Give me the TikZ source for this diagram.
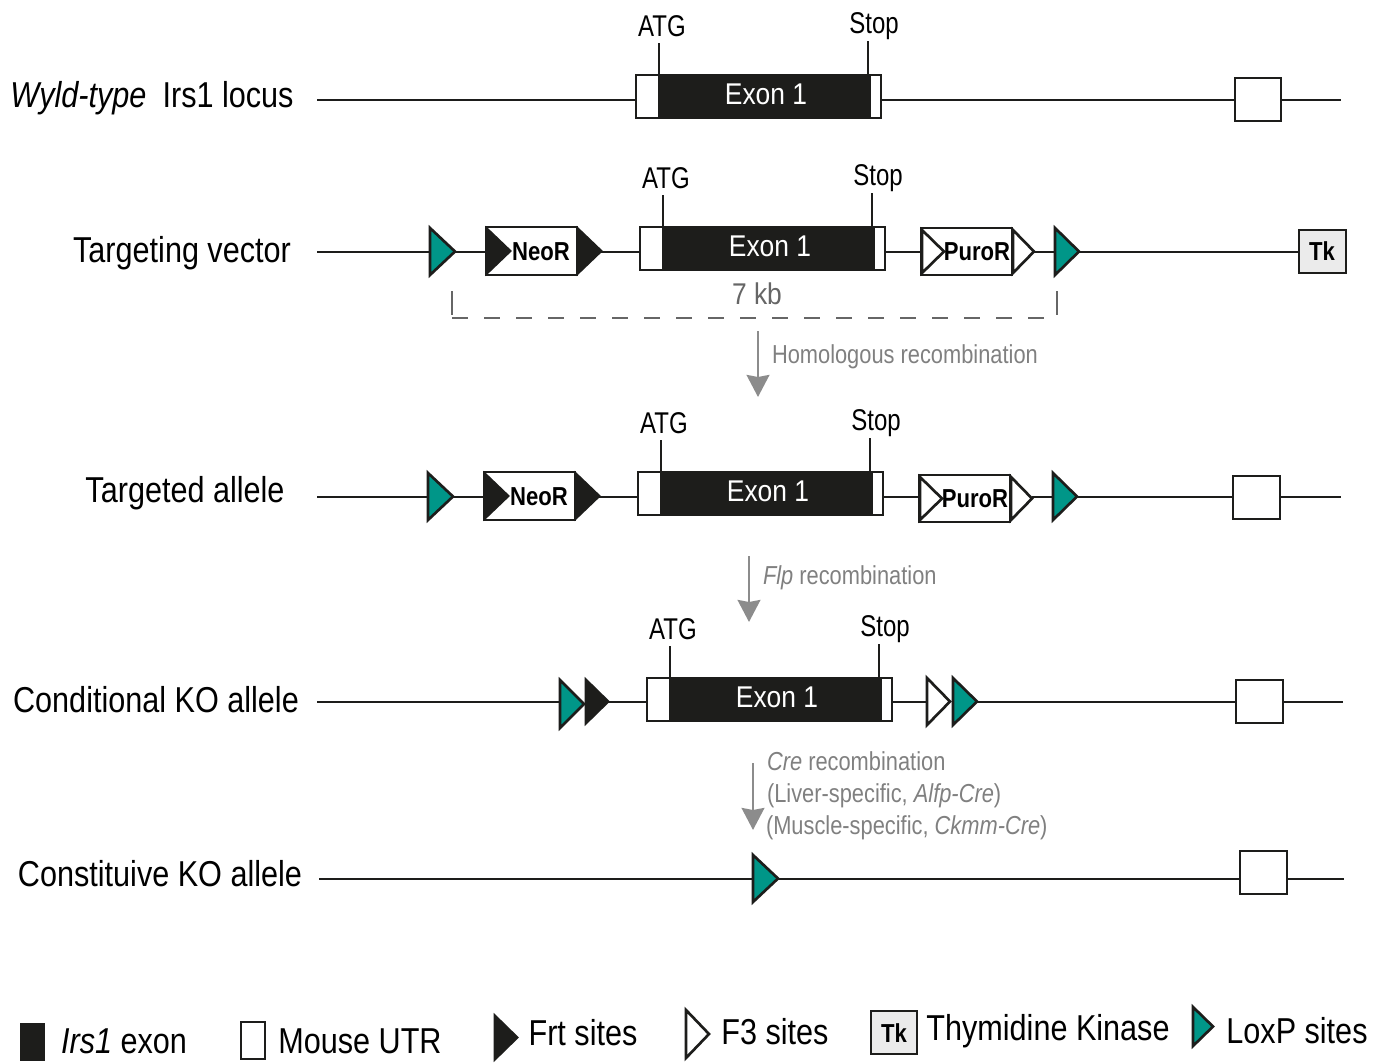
\documentclass[tikz,border=0pt]{standalone}
\usepackage{fontspec}
\setmainfont[FakeStretch=0.8]{Liberation Sans}
\newfontfamily\fontlab[FakeStretch=0.85]{Liberation Sans}
\newfontfamily\fontnote[FakeStretch=0.84]{Liberation Sans}
\newfontfamily\fontexon[FakeStretch=0.88]{Liberation Sans}
\newfontfamily\fonttag[FakeStretch=0.85]{Liberation Sans}
\usetikzlibrary{shapes.geometric,arrows.meta,calc}
\definecolor{ink}{HTML}{1D1D1B}
\definecolor{teal1}{HTML}{009688}
\definecolor{grayt}{HTML}{808080}
\definecolor{grayk}{HTML}{666666}
\definecolor{grayar}{HTML}{8C8C8C}
\definecolor{tkfill}{HTML}{EBEBEB}
\tikzset{
  x=0.75pt,y=-0.75pt,
  ln/.style={draw=ink,line width=2pt},
  shp/.style={draw=ink,line width=2pt,inner sep=0pt,outer sep=0pt},
  white box/.style={shp,fill=white},
  black box/.style={shp,fill=ink,draw=none},
  tk box/.style={shp,fill=tkfill},
  tri/.style={shp,isosceles triangle,isosceles triangle stretches=true,shape border rotate=0,anchor=lower side,miter limit=20},
  teal tri/.style={tri,fill=teal1},
  black tri/.style={tri,fill=ink},
  white tri/.style={tri,fill=white},
  lab/.style={anchor=base,inner sep=0pt,outer sep=0pt,text=black,font=\fontlab\fontsize{27pt}{30pt}\selectfont},
  ann/.style={anchor=base,inner sep=0pt,outer sep=0pt,text=black,font=\fontsize{22.5pt}{26pt}\selectfont},
  exon text/.style={anchor=base,inner sep=0pt,outer sep=0pt,text=white,font=\fontexon\fontsize{22.5pt}{26pt}\selectfont},
  tag/.style={anchor=base,inner sep=0pt,outer sep=0pt,text=black,font=\fonttag\fontsize{19.5pt}{24pt}\selectfont\bfseries},
  note/.style={anchor=base west,inner sep=0pt,outer sep=0pt,text=grayt,font=\fontnote\fontsize{19.5pt}{24pt}\selectfont},
  flow/.style={draw=grayar,line width=2.2pt,-{Stealth[length=16.5pt,width=17pt,inset=1.5pt,fill=grayar]}},
  brk/.style={draw=grayk,line width=1.9pt},
}
% name, x1, x2, y1, y2, style
\newcommand{\bx}[6]{\node[#6,rectangle,anchor=north west,minimum width={(#3-#2)*0.75pt},minimum height={(#5-#4)*0.75pt}] (#1) at (#2,#4) {};}
% name, x left, x right, y top, y bottom, style: outer extents, stroke taken off
\newcommand{\trg}[6]{\node[#6,minimum height={(#3-#2-2)*0.75pt},minimum width={(#5-#4-4)*0.75pt}] (#1) at ({#2+1},{(#4+#5)/2}) {};}
% connector along a row: from node anchor to node anchor at the row's level
\newcommand{\cn}[3]{\draw[ln] (#1 |- #3) -- (#3 -| #2);}
% exon group shifted from the first row
\newcommand{\exongroup}[3]{%
\begin{scope}[shift={(#1,#2)},name prefix=#3-]
  \bx{utrl}{636}{659}{75}{118}{white box}
  \bx{utrr}{870}{881}{75}{118}{white box}
  \bx{exon}{659}{870}{74}{119}{black box}
  \node[exon text] (exlab) at (766,104) {Exon 1};
  \node[ann] (atg) at (662,36) {ATG};
  \node[ann] (stop) at (874,33) {Stop};
  \coordinate (atgtop) at (659,43);
  \coordinate (stoptop) at (868,41);
  \draw[ln] (exon.north west) -- (atgtop);
  \draw[ln] (exon.north west -| stoptop) -- (stoptop);
\end{scope}}
% selection cassettes
\newcommand{\neo}[3]{%
\begin{scope}[shift={(#1,#2)},name prefix=#3-]
  \bx{neobox}{486}{577}{227}{275}{white box}
  \trg{neoin}{486}{511}{227}{275}{black tri}
  \trg{neotri}{577}{602}{227}{275}{black tri}
  \node[tag] (neolab) at (541,260) {NeoR};
\end{scope}}
\newcommand{\puro}[3]{%
\begin{scope}[shift={(#1,#2)},name prefix=#3-]
  \bx{purobox}{921}{1012}{228}{275}{white box}
  \trg{puroin}{921}{945}{228}{275}{white tri}
  \trg{purotri}{1012}{1035}{228}{275}{white tri}
  \node[tag] (purolab) at (977,260) {PuroR};
\end{scope}}
\begin{document}
\begin{tikzpicture}
\useasboundingbox (0,0) rectangle (1379,1064);
% row levels and free ends
\coordinate (r1) at (317,100);
\coordinate (e1) at (1341,100);
\coordinate (r2) at (317,252);
\coordinate (r3) at (317,497);
\coordinate (e3) at (1341,497);
\coordinate (r4) at (317,702);
\coordinate (e4) at (1343,702);
\coordinate (r5) at (319,879);
\coordinate (e5) at (1344,879);

% row labels
\node[lab] (l1) at (152,107) {\textit{Wyld-type}\hspace{0.45em}Irs1 locus};
\node[lab] (l2) at (182,262) {Targeting vector};
\node[lab] (l3) at (185,502) {Targeted allele};
\node[lab] (l4) at (156,712) {Conditional KO allele};
\node[lab] (l5) at (160,886) {Constituive KO allele};

% row 1
\exongroup{0}{0}{a}
\bx{a-box}{1235}{1281}{78}{121}{white box}
\draw[ln] (r1) -- (r1 -| a-utrl.west);
\cn{a-utrr.east}{a-box.west}{r1}
\draw[ln] (a-box.east |- r1) -- (e1);

% row 2
\exongroup{4}{152}{b}
\trg{b-t1}{429}{456}{226}{277}{teal tri}
\neo{0}{0}{b}
\puro{0}{0}{b}
\trg{b-t2}{1054}{1080}{226}{277}{teal tri}
\bx{b-tk}{1299}{1346}{230}{273}{tk box}
\node[tag] (b-tklab) at (1322,260) {Tk};
\draw[ln] (r2) -- (r2 -| b-t1.lower side);
\cn{b-t1.apex}{b-neobox.west}{r2}
\cn{b-neotri.apex}{b-utrl.west}{r2}
\cn{b-utrr.east}{b-purobox.west}{r2}
\cn{b-purotri.apex}{b-t2.lower side}{r2}
\cn{b-t2.apex}{b-tk.west}{r2}

% 7 kb bracket
\node[anchor=base,inner sep=0pt,text=grayk,font=\fontexon\fontsize{22.5pt}{26pt}\selectfont] (kb) at (757,304) {7 kb};
\coordinate (bl) at (452,318);
\coordinate (br) at (1057,318);
\coordinate (blt) at (452,291);
\coordinate (brt) at (1057,291);
\draw[brk] (blt) -- ($(bl)+(0,-3)$);
\draw[brk] (brt) -- ($(br)+(0,-3)$);
\draw[brk,dash pattern=on 12pt off 12pt] (bl) -- (br);

% arrow 1
\coordinate (f1a) at (758,331);
\coordinate (f1b) at (758,397);
\draw[flow] (f1a) -- (f1b);
\node[note] (n1) at (772,363) {Homologous recombination};

% row 3
\exongroup{2}{397}{c}
\trg{c-t1}{427}{454}{471}{522}{teal tri}
\neo{-2}{245}{c}
\puro{-2}{247}{c}
\trg{c-t2}{1052}{1078}{471}{522}{teal tri}
\bx{c-box}{1233}{1280}{476}{519}{white box}
\draw[ln] (r3) -- (r3 -| c-t1.lower side);
\cn{c-t1.apex}{c-neobox.west}{r3}
\cn{c-neotri.apex}{c-utrl.west}{r3}
\cn{c-utrr.east}{c-purobox.west}{r3}
\cn{c-purotri.apex}{c-t2.lower side}{r3}
\cn{c-t2.apex}{c-box.west}{r3}
\draw[ln] (c-box.east |- r3) -- (e3);

% arrow 2
\coordinate (f2a) at (749,556);
\coordinate (f2b) at (749,622);
\draw[flow] (f2a) -- (f2b);
\node[note] (n2) at (763,584) {\textit{Flp} recombination};

% row 4
\exongroup{11}{603}{d}
\trg{d-t1}{559}{585}{678}{730}{teal tri}
\trg{d-t2}{585}{609}{678}{725}{black tri}
\trg{d-t3}{926}{951}{676}{727}{white tri}
\trg{d-t4}{952}{978}{676}{727}{teal tri}
\bx{d-box}{1236}{1283}{680}{723}{white box}
\draw[ln] (r4) -- (r4 -| d-t1.lower side);
\cn{d-t2.apex}{d-utrl.west}{r4}
\cn{d-utrr.east}{d-t3.lower side}{r4}
\cn{d-t4.apex}{d-box.west}{r4}
\draw[ln] (d-box.east |- r4) -- (e4);

% arrow 3
\coordinate (f3a) at (753,763);
\coordinate (f3b) at (753,830);
\draw[flow] (f3a) -- (f3b);
\node[note] (n3a) at (767,770) {\textit{Cre} recombination};
\node[note] (n3b) at (767,802) {(Liver-specific, \textit{Alfp-Cre})};
\node[note] (n3c) at (766,834) {(Muscle-specific, \textit{Ckmm-Cre})};

% row 5
\trg{e-t1}{752}{779}{853}{904}{teal tri}
\bx{e-box}{1240}{1287}{851}{894}{white box}
\draw[ln] (r5) -- (r5 -| e-t1.lower side);
\cn{e-t1.apex}{e-box.west}{r5}
\draw[ln] (e-box.east |- r5) -- (e5);

% legend
\bx{k1}{20}{45}{1023}{1061}{black box}
\node[lab] (k1l) at (124,1053) {\textit{Irs1} exon};
\bx{k2}{241}{265}{1022}{1059}{white box}
\node[lab] (k2l) at (360,1053) {Mouse UTR};
\trg{k3}{494}{518}{1014}{1061}{black tri}
\node[lab] (k3l) at (583,1045) {Frt sites};
\trg{k4}{685}{710}{1008}{1060}{white tri}
\node[lab] (k4l) at (775,1044) {F3 sites};
\bx{k5}{871}{917}{1011}{1054}{tk box}
\node[tag] (k5t) at (894,1042) {Tk};
\node[lab] (k5l) at (1048,1040) {Thymidine Kinase};
\trg{k6}{1192}{1214}{1005}{1048}{teal tri}
\node[lab] (k6l) at (1297,1043) {LoxP sites};
\end{tikzpicture}
\end{document}
